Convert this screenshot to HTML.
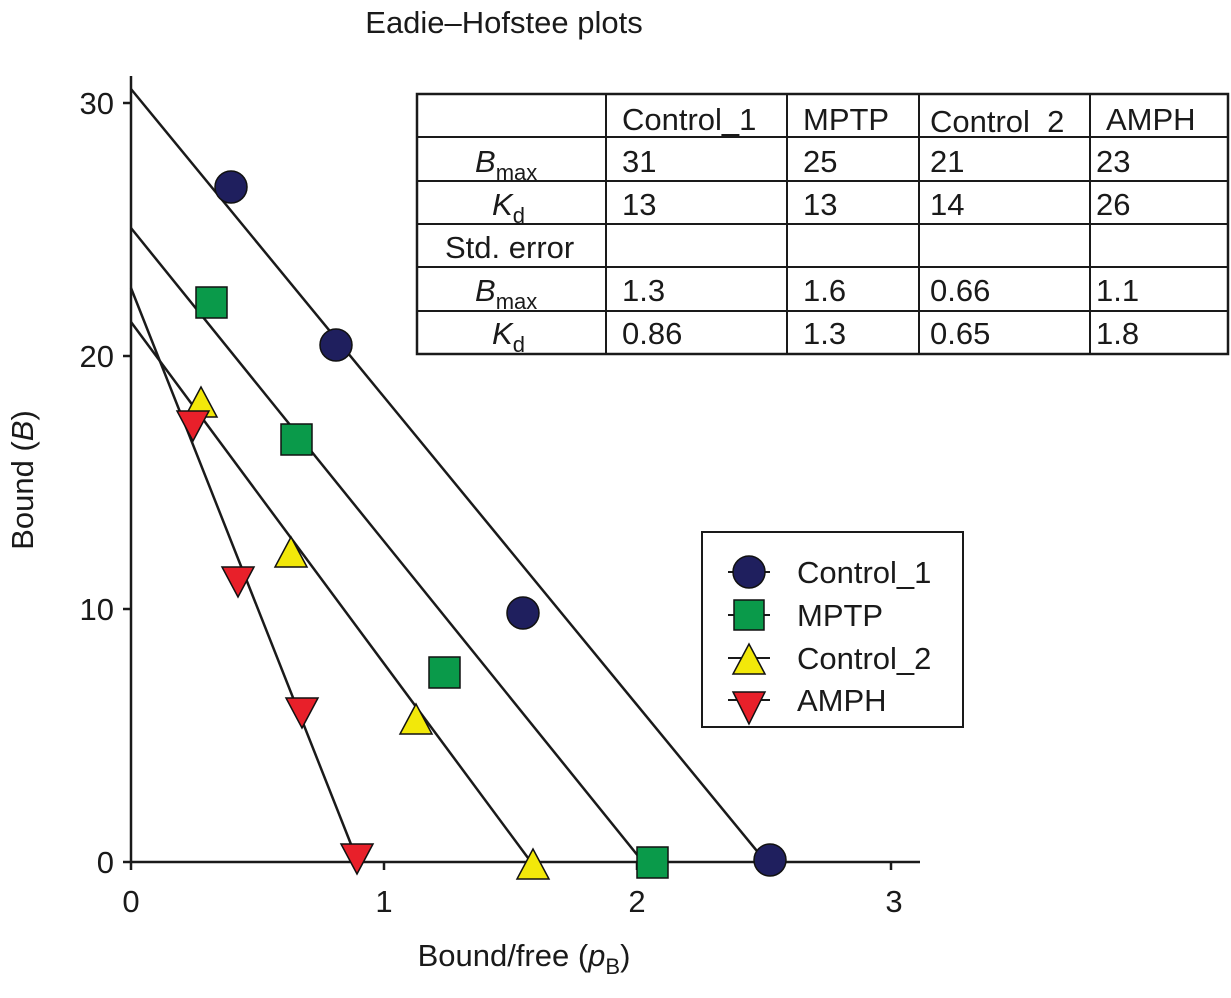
<!DOCTYPE html>
<html><head><meta charset="utf-8"><style>body{margin:0;background:#fff}svg{display:block}text{font-family:"Liberation Sans",Arial,sans-serif;fill:#1a1a1a}</style></head><body>
<svg width="1231" height="998" viewBox="0 0 1231 998">
<text x="504" y="33" font-size="31" text-anchor="middle">Eadie–Hofstee plots</text>
<g stroke="#1a1a1a" stroke-width="2.5" fill="none">
<line x1="131" y1="76" x2="131" y2="862"/>
<line x1="131" y1="862" x2="920" y2="862"/>
<line x1="123" y1="103" x2="131" y2="103"/><line x1="123" y1="356" x2="131" y2="356"/><line x1="123" y1="609" x2="131" y2="609"/><line x1="123" y1="862" x2="131" y2="862"/>
<line x1="131" y1="862" x2="131" y2="870"/><line x1="384" y1="862" x2="384" y2="870"/><line x1="637" y1="862" x2="637" y2="870"/><line x1="891" y1="862" x2="891" y2="870"/>
<line x1="131" y1="89" x2="766" y2="862"/>
<line x1="131" y1="228" x2="643" y2="862"/>
<line x1="131" y1="322" x2="531" y2="862"/>
<line x1="131" y1="288" x2="358" y2="862"/>
</g>
<g font-size="31" text-anchor="end"><text x="114" y="114">30</text><text x="114" y="367">20</text><text x="114" y="620">10</text><text x="114" y="873">0</text></g>
<g font-size="31" text-anchor="middle"><text x="131" y="912">0</text><text x="384" y="912">1</text><text x="637" y="912">2</text><text x="894" y="912">3</text></g>
<text x="524" y="966" font-size="31" text-anchor="middle">Bound/free (<tspan font-style="italic">p</tspan><tspan font-size="22" dy="8">B</tspan><tspan dy="-8">)</tspan></text>
<text transform="translate(33,480) rotate(-90)" font-size="31" text-anchor="middle">Bound (<tspan font-style="italic">B</tspan>)</text>
<g fill="#1f1f5e" stroke="#111" stroke-width="1.5">
<circle cx="231" cy="187" r="16"/><circle cx="336" cy="345" r="16"/><circle cx="523" cy="613" r="16"/><circle cx="770" cy="860" r="16"/>
</g>
<g fill="#0a9a4a" stroke="#111" stroke-width="1.5">
<rect x="196" y="287" width="31" height="31"/><rect x="281" y="424" width="31" height="31"/><rect x="429" y="657" width="31" height="31"/><rect x="637" y="847" width="31" height="31"/>
</g>
<g fill="#f2e80a" stroke="#111" stroke-width="1.5">
<polygon points="201,387 185,417 217,417"/><polygon points="291,537 275,567 307,567"/><polygon points="416,704 400,734 432,734"/><polygon points="533,849 517,879 549,879"/>
</g>
<g fill="#e8202a" stroke="#111" stroke-width="1.5">
<polygon points="193,441 177,411 209,411"/><polygon points="238,597 222,567 254,567"/><polygon points="302,728 286,698 318,698"/><polygon points="357,874 341,844 373,844"/>
</g>
<rect x="702" y="532" width="261" height="195" fill="#fff" stroke="#1a1a1a" stroke-width="2"/>
<g stroke="#1a1a1a" stroke-width="2"><line x1="728" y1="572" x2="770" y2="572"/><line x1="728" y1="615" x2="770" y2="615"/><line x1="728" y1="658" x2="770" y2="658"/><line x1="728" y1="700" x2="770" y2="700"/></g>
<circle cx="749" cy="572" r="16" fill="#1f1f5e" stroke="#111" stroke-width="1.5"/>
<rect x="734" y="600" width="30" height="30" fill="#0a9a4a" stroke="#111" stroke-width="1.5"/>
<polygon points="749,644 733,674 765,674" fill="#f2e80a" stroke="#111" stroke-width="1.5"/>
<polygon points="749,724 733,692 765,692" fill="#e8202a" stroke="#111" stroke-width="1.5"/>
<g font-size="31"><text x="797" y="583">Control_1</text><text x="797" y="626">MPTP</text><text x="797" y="669">Control_2</text><text x="797" y="711">AMPH</text></g>
<rect x="417" y="94" width="811" height="260" fill="#fff" stroke="#1a1a1a" stroke-width="2.5"/>
<g stroke="#1a1a1a" stroke-width="2">
<line x1="417" y1="137" x2="1228" y2="137"/><line x1="417" y1="181" x2="1228" y2="181"/><line x1="417" y1="224" x2="1228" y2="224"/><line x1="417" y1="267" x2="1228" y2="267"/><line x1="417" y1="311" x2="1228" y2="311"/>
<line x1="606" y1="94" x2="606" y2="354"/><line x1="787" y1="94" x2="787" y2="354"/><line x1="919" y1="94" x2="919" y2="354"/><line x1="1090" y1="94" x2="1090" y2="354"/>
</g>
<g font-size="31">
<text x="622" y="130">Control_1</text><text x="803" y="130">MPTP</text><text x="930" y="132">Control_2</text><text x="1106" y="130">AMPH</text>
<text x="622" y="172">31</text><text x="803" y="172">25</text><text x="930" y="172">21</text><text x="1096" y="172">23</text>
<text x="622" y="215">13</text><text x="803" y="215">13</text><text x="930" y="215">14</text><text x="1096" y="215">26</text>
<text x="445" y="258">Std. error</text>
<text x="622" y="301">1.3</text><text x="803" y="301">1.6</text><text x="930" y="301">0.66</text><text x="1096" y="301">1.1</text>
<text x="622" y="344">0.86</text><text x="803" y="344">1.3</text><text x="930" y="344">0.65</text><text x="1096" y="344">1.8</text>
<text x="475" y="172" font-style="italic">B<tspan font-style="normal" font-size="22" dy="8">max</tspan></text>
<text x="492" y="215" font-style="italic">K<tspan font-style="normal" font-size="22" dy="8">d</tspan></text>
<text x="475" y="301" font-style="italic">B<tspan font-style="normal" font-size="22" dy="8">max</tspan></text>
<text x="492" y="344" font-style="italic">K<tspan font-style="normal" font-size="22" dy="8">d</tspan></text>
</g>
</svg>
</body></html>
